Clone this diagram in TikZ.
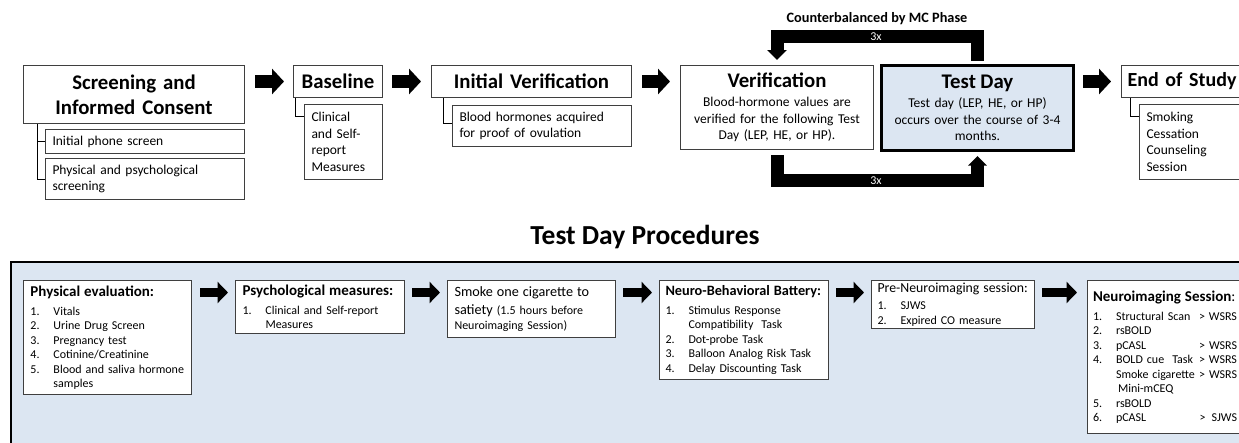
\documentclass[tikz,border=0pt]{standalone}
\usepackage{fontspec}
\setmainfont{Carlito}
\usetikzlibrary{arrows.meta}
\definecolor{pale}{HTML}{DCE6F2}
\definecolor{edge}{HTML}{3F3F3F}
\newcommand{\HeadF}{\fontsize{20.8}{25}\selectfont\bfseries}
\newcommand{\BodyF}{\fontsize{13.5}{16.5}\selectfont}
\newcommand{\SubF}{\fontsize{13.5}{16.7}\selectfont}
\newcommand{\ListF}{\fontsize{12}{14.5}\selectfont}
\newcommand{\BoxH}{\fontsize{15}{14.5}\selectfont}
\newcommand{\BoxHs}{\fontsize{14.3}{14.5}\selectfont}
\newcommand{\BoxR}{\fontsize{14.2}{14.5}\selectfont}
\newcommand{\BoxRs}{\fontsize{13.8}{14.5}\selectfont}
\newcommand{\Num}[1]{\makebox[23pt][l]{#1}}
\newcommand{\RL}[2]{\makebox[144pt][l]{#1\hfill#2}}
\hyphenpenalty=10000
\exhyphenpenalty=10000
\begin{document}
\begin{tikzpicture}[x=1pt,y=-1pt,
  box/.style={draw=edge,line width=1pt,fill=white,anchor=north west,inner xsep=7pt,inner ysep=0pt,align=left},
  cbox/.style={box,align=center},
  bracket/.style={draw=black,line width=1pt},
  bigarrow/.style={line width=13pt,-{Triangle[length=12pt,width=25pt]}},
  smallarrow/.style={line width=9.5pt,-{Triangle[length=10.5pt,width=21pt]}},
  loopup/.style={line width=13pt,line join=miter,-{Triangle[length=10pt,width=19pt]}},
  loopdown/.style={line width=13pt,line join=miter,-{Triangle[length=9.5pt,width=18pt]}},
  whitelabel/.style={text=white,font=\fontsize{12}{14}\selectfont,inner sep=0pt},
]
\useasboundingbox (0,0) rectangle (1239,442);
\clip (0,0) rectangle (1239,442);

% ---- top row ----
\node[cbox,minimum width=221pt,minimum height=58pt,text width=207pt,font=\HeadF] (scr) at (23,65) {Screening and\\Informed Consent};
\node[box,minimum width=199pt,minimum height=24pt,text width=185pt,font=\SubF] (s1) at (45,129) {Initial phone screen};
\node[box,minimum width=199pt,minimum height=41pt,text width=185pt,font=\SubF] (s2) at (45,158) {Physical and psychological\\screening};
\draw[bracket] ([xshift=14pt]scr.south west) |- (s2.west);
\draw[bracket] (s1.west) -- ++(-8pt,0);

\node[cbox,minimum width=89pt,minimum height=32pt,text width=75pt,font=\HeadF] (bas) at (293,65) {Baseline};
\node[box,minimum width=78pt,minimum height=75pt,text width=64pt,font=\SubF] (bsub) at (304,104) {Clinical\\and Self-\\report\\Measures};
\draw[bracket] ([xshift=2pt]bas.south west) |- ([yshift=-12pt]bsub.north west);

\node[cbox,minimum width=200pt,minimum height=32pt,text width=186pt,font=\HeadF] (iv) at (431,65) {Initial Verification};
\node[box,minimum width=179pt,minimum height=41pt,text width=165pt,font=\SubF] (ivsub) at (452,105) {Blood hormones acquired\\for proof of ovulation};
\draw[bracket] ([xshift=12pt]iv.south west) |- ([yshift=-18pt]ivsub.north west);

\node[cbox,minimum width=193pt,minimum height=84pt,text width=181pt,inner xsep=6pt,font=\BodyF] (ver) at (680,65)
  {{\HeadF Verification}\\[2.5pt]Blood-hormone values are\\verified for the following Test\\Day (LEP, HE, or HP).};

\node[cbox,draw=black,line width=3pt,fill=pale,minimum width=192pt,minimum height=85pt,text width=180pt,inner xsep=6pt,font=\BodyF] (td) at (880,64)
  {{\HeadF Test Day}\\[2.5pt]Test day (LEP, HE, or HP)\\occurs over the course of 3-4\\months.};

\node[box,minimum width=140pt,minimum height=32pt,text width=130pt,inner xsep=6pt,font=\fontsize{20}{24}\selectfont\bfseries] (eos) at (1121,65) {End of Study};
\node[box,minimum width=120pt,minimum height=75pt,text width=106pt,font=\SubF] (esub) at (1139,104) {Smoking\\Cessation\\Counseling\\Session};
\draw[bracket] ([xshift=9pt]eos.south west) |- ([yshift=-12pt]esub.north west);

% block arrows top row
\draw[bigarrow] ([xshift=10pt]scr.east |- bas.west) -- ([xshift=-9pt]bas.west);
\draw[bigarrow] ([xshift=9pt]bas.east) -- ([xshift=-10pt]iv.west);
\draw[bigarrow] ([xshift=10pt]iv.east) -- ([xshift=-10pt]ver.west |- iv.west);
\draw[bigarrow] ([xshift=8pt]td.east |- eos.west) -- ([xshift=-10pt]eos.west);

% loops
\node[font=\fontsize{14.3}{16}\selectfont\bfseries,inner sep=0pt] (cb) at (877,19) {Counterbalanced by MC Phase};
\coordinate (topband) at (876,36.5);
\coordinate (botband) at (876,180.5);
\draw[loopup] ([yshift=3pt]td.north) |- (topband) -| ([yshift=5pt]ver.north);
\draw[loopdown] ([yshift=-5pt]ver.south) |- (botband) -| ([yshift=-4pt]td.south);
\node[whitelabel] (x1) at (topband) {3x};
\node[whitelabel] (x2) at (botband) {3x};

% ---- bottom ----
\node[font=\fontsize{27.5}{32}\selectfont\bfseries,inner sep=0pt,anchor=base] (tdp) at (645,244) {Test Day Procedures};
\draw[line width=2.5pt,fill=pale] (11,262) rectangle (1260,470);
\coordinate (arow) at (0,292.5);

\node[box,minimum width=168pt,minimum height=114pt,text width=154pt,font=\ListF] (pe) at (23,280)
  {{\BoxH\bfseries Physical evaluation:}\\[4.5pt]
   \Num{1.}Vitals\\
   \Num{2.}Urine Drug Screen\\
   \Num{3.}Pregnancy test\\
   \Num{4.}Cotinine/Creatinine\\
   \Num{5.}Blood and saliva hormone\\
   \Num{}samples};
\node[box,minimum width=169pt,minimum height=53pt,text width=155pt,font=\ListF] (pm) at (235,280)
  {{\BoxH\bfseries Psychological measures:}\\[4.5pt]
   \Num{1.}Clinical and Self-report\\
   \Num{}Measures};
\node[box,minimum width=168pt,minimum height=57pt,text width=154pt,font=\ListF] (sm) at (447,280)
  {{\BoxR Smoke one cigarette to}\\[3.5pt]
   {\BoxR satiety} (1.5 hours before\\
   Neuroimaging Session)};
\node[box,minimum width=169pt,minimum height=99pt,text width=157pt,inner xsep=6pt,font=\ListF] (nb) at (659,280)
  {{\BoxHs\bfseries\mbox{Neuro-Behavioral Battery:}}\\[4.5pt]
   \Num{1.}Stimulus Response\\
   \Num{}Compatibility\ \ Task\\
   \Num{2.}Dot-probe Task\\
   \Num{3.}Balloon Analog Risk Task\\
   \Num{4.}Delay Discounting Task};
\node[box,minimum width=163pt,minimum height=48pt,text width=151pt,inner xsep=6pt,font=\ListF] (pn) at (871,280)
  {{\BoxRs\mbox{Pre-Neuroimaging session:}}\\[3pt]
   \Num{1.}SJWS\\
   \Num{2.}Expired CO measure};
\node[box,minimum width=155pt,minimum height=153pt,text width=144pt,inner xsep=0pt,xshift=7pt,font=\ListF] (ni) at (1080,280)
  {{\BoxH\textbf{Neuroimaging Session}:}\\[4.5pt]
   \RL{\Num{1.}Structural Scan}{> WSRS}\\
   \Num{2.}rsBOLD\\
   \RL{\Num{3.}pCASL}{> WSRS}\\
   \RL{\Num{4.}BOLD cue\ \ Task}{> WSRS}\\
   \RL{\Num{}Smoke cigarette}{> WSRS}\\
   \Num{}\,Mini-mCEQ\\
   \Num{5.}rsBOLD\\
   \RL{\Num{6.}pCASL}{>\ \,SJWS}};

\draw[smallarrow] ([xshift=8pt]pe.east |- arow) -- ([xshift=-7pt]pm.west |- arow);
\draw[smallarrow] ([xshift=7pt]pm.east |- arow) -- ([xshift=-7pt]sm.west |- arow);
\draw[smallarrow] ([xshift=7pt]sm.east |- arow) -- ([xshift=-7pt]nb.west |- arow);
\draw[smallarrow] ([xshift=7pt]nb.east |- arow) -- ([xshift=-7pt]pn.west |- arow);
\draw[smallarrow] ([xshift=7pt]pn.east |- arow) -- ([xshift=-10pt]ni.west |- arow);
\end{tikzpicture}
\end{document}
